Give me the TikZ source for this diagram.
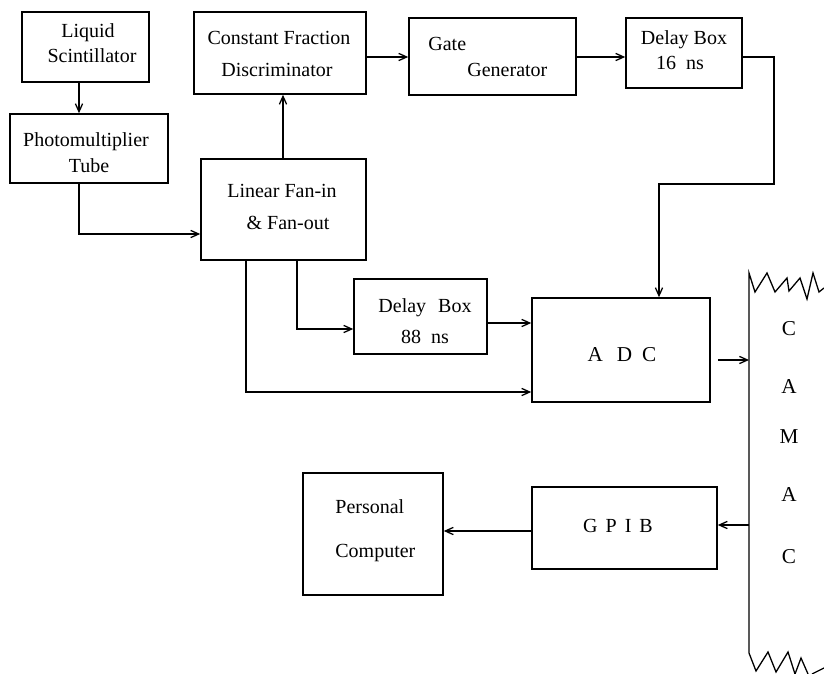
\documentclass[tikz,border=0pt]{standalone}
\usepackage{fontspec}
\setmainfont{Liberation Serif}
\usetikzlibrary{arrows.meta,fit}
\begin{document}
\begin{tikzpicture}[x=0.5pt,y=-0.5pt,
  box/.style={draw,line width=0.75pt,inner sep=0pt},
  conn/.style={line width=0.65pt},
  arr/.style={conn,-{Straight Barb[length=4pt,width=3.6pt]}},
  txt/.style={anchor=base,inner sep=0pt,font=\fontsize{10}{12}\selectfont},
  ltxt/.style={txt,anchor=base west},
  big/.style={txt,font=\fontsize{10.6}{12}\selectfont}]
\useasboundingbox (0,0) rectangle (824,674);
% boxes
\node[box,fit={(22,12) (149,82)}] (ls) {};
\node[box,fit={(10,114) (168,183)}] (pmt) {};
\node[box,fit={(194,12) (366,94)}] (cfd) {};
\node[box,fit={(201,159) (366,260)}] (lf) {};
\node[box,fit={(409,18) (576,95)}] (gg) {};
\node[box,fit={(626,18) (742,88)}] (db16) {};
\node[box,fit={(354,279) (487,354)}] (db88) {};
\node[box,fit={(532,298) (710,402)}] (adc) {};
\node[box,fit={(303,473) (443,595)}] (pc) {};
\node[box,fit={(532,487) (717,569)}] (gpib) {};
% texts
\node[txt] (t1) at (88,38) {Liquid};
\node[txt] (t2) at (92,63) {Scintillator};
\node[txt] (t3) at (86,147) {Photomultiplier};
\node[txt] (t4) at (89,172) {Tube};
\node[txt] (t5) at (279,45) {Constant Fraction};
\node[txt] (t6) at (277,77) {Discriminator};
\node[txt] (t7) at (282,197) {Linear Fan-in};
\node[txt] (t8) at (288,229) {\& Fan-out};
\node[ltxt] (t9) at (428,51) {Gate};
\node[ltxt] (t10) at (467,76) {Generator};
\node[txt] (t11) at (684,45) {Delay Box};
\node[txt] (t12) at (680,70) {16\hspace{5pt}ns};
\node[txt] (t13) at (425,312) {Delay\hspace{6pt}Box};
\node[txt] (t14) at (425,343) {88\hspace{5pt}ns};
\node[big] (t15) at (622,361) {A\hspace{7pt}D\hspace{5pt}C};
\node[ltxt] (t16) at (335,513) {Personal};
\node[ltxt] (t17) at (335,557) {Computer};
\node[txt] (t18) at (618,532) {G\hspace{4pt}P\hspace{4pt}I\hspace{4pt}B};
\node[big] (c1) at (789,335) {C};
\node[big] (c2) at (789,393) {A};
\node[big] (c3) at (789,443) {M};
\node[big] (c4) at (789,501) {A};
\node[big] (c5) at (789,563) {C};
% CAMAC bus
\coordinate (bus) at (749,273);
\draw[conn] (824,288) -- (819,292) -- (813,273) -- (807,299) -- (800,278) -- (789,291) -- (787,278) -- (775,292) -- (767,273) -- (755,292) -- (bus) -- (749,653) -- (756,671) -- (768,652) -- (776,672) -- (788,652) -- (795,674) -- (801,658) -- (808,674);
\draw[conn] (812,674) -- (824,668);
% helper coordinates
\coordinate (xa) at (79,0);
\coordinate (xb) at (283,0);
\coordinate (xc) at (297,0);
\coordinate (xd) at (246,0);
\coordinate (xe) at (659,0);
\coordinate (ya) at (0,234);
\coordinate (yb) at (0,57);
\coordinate (yc) at (0,329);
\coordinate (yd) at (0,392);
\coordinate (ye) at (0,323);
\coordinate (yf) at (0,360);
\coordinate (yg) at (0,525);
\coordinate (yh) at (0,531);
\coordinate (k1) at (774,57);
\coordinate (k2) at (774,184);
\coordinate (k3) at (659,184);
% connectors
\draw[arr] (ls.south -| xa) -- (pmt.north -| xa);
\draw[arr] (pmt.south -| xa) |- (lf.west |- ya);
\draw[arr] (lf.north -| xb) -- (cfd.south -| xb);
\draw[arr] (cfd.east |- yb) -- (gg.west |- yb);
\draw[arr] (gg.east |- yb) -- (db16.west |- yb);
\draw[arr] (db16.east |- yb) -- (k1) -- (k2) -- (k3) -- (adc.north -| xe);
\draw[arr] (lf.south -| xc) |- (db88.west |- yc);
\draw[arr] (lf.south -| xd) |- (adc.west |- yd);
\draw[arr] (db88.east |- ye) -- (adc.west |- ye);
\draw[arr] ([xshift=3.5pt]adc.east |- yf) -- (bus |- yf);
\draw[arr] (bus |- yg) -- (gpib.east |- yg);
\draw[arr] (gpib.west |- yh) -- (pc.east |- yh);
\end{tikzpicture}
\end{document}
